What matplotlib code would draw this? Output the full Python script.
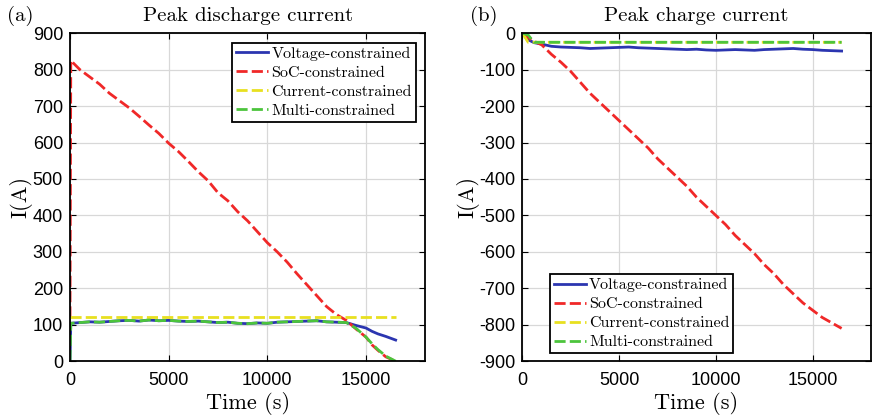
import matplotlib.pyplot as plt

# ---- data ----
# (a) peak discharge current
t_dis = [0, 40, 500, 1000, 1500, 2000, 2500, 3000, 3500, 4000, 4500, 5000, 5500,
         6000, 6500, 7000, 7500, 8000, 8500, 9000, 9500, 10000, 10500, 11000,
         11500, 12000, 12500, 13000, 13500, 14000, 14500, 15000, 15300, 15600,
         16000, 16500]
volt_dis = [0, 104, 106, 108, 107, 109, 111, 112, 110, 113, 111, 112, 110,
            109, 110, 108, 106, 107, 104, 103, 105, 104, 107, 108,
            109, 110, 111, 108, 107, 106, 98, 91, 82, 75, 68, 58]
multi_dis = [0, 104, 106, 108, 107, 109, 111, 112, 110, 113, 111, 112, 110,
             109, 110, 108, 106, 107, 104, 103, 105, 104, 107, 108,
             109, 110, 111, 108, 107, 106, 90, 66, 48, 32, 14, 0]
soc_dis = [120, 825, 800, 780, 760, 735, 715, 695, 672, 648, 625, 598, 575,
           548, 520, 495, 462, 440, 410, 385, 355, 325, 300, 272,
           240, 210, 180, 150, 128, 112, 88, 66, 45, 30, 12, 0]
curr_dis = [120] * len(t_dis)

# (b) peak charge current
t_chg = [0, 300, 600, 1000, 1500, 2000, 2500, 3000, 3500, 4000, 4500, 5000, 5500,
         6000, 6500, 7000, 7500, 8000, 8500, 9000, 9500, 10000, 10500, 11000,
         11500, 12000, 12500, 13000, 13500, 14000, 14500, 15000, 15500, 16000,
         16500]
volt_chg = [0, -18, -26, -30, -36, -38, -39, -40, -42, -41, -40, -39, -38,
            -40, -41, -42, -43, -44, -45, -44, -46, -47, -46, -45,
            -46, -47, -45, -44, -43, -42, -44, -45, -47, -48, -49]
soc_chg = [0, -12, -22, -32, -58, -80, -105, -135, -165, -190, -215, -240, -265,
           -290, -315, -345, -370, -395, -420, -450, -475, -500, -525, -555,
           -580, -605, -635, -660, -690, -715, -740, -760, -780, -795, -810]
curr_chg = [0, -25, -25, -25, -25, -25, -25, -25, -25, -25, -25, -25, -25,
            -25, -25, -25, -25, -25, -25, -25, -25, -25, -25, -25,
            -25, -25, -25, -25, -25, -25, -25, -25, -25, -25, -25]
multi_chg = [0, -5, -25, -25, -25, -25, -25, -25, -25, -25, -25, -25, -25,
             -25, -25, -25, -25, -25, -25, -25, -25, -25, -25, -25,
             -25, -25, -25, -25, -25, -25, -25, -25, -25, -25, -25]

labels = ['Voltage-constrained', 'SoC-constrained', 'Current-constrained', 'Multi-constrained']
colors = ['#2b35b0', '#f02828', '#e8e020', '#4cc43c']

serif = ['cmr10', 'DejaVu Serif']
plt.rcParams['font.family'] = ['Liberation Sans', 'DejaVu Sans']
plt.rcParams['axes.unicode_minus'] = False
plt.rcParams['axes.formatter.use_mathtext'] = False

fig = plt.figure(figsize=(8.75, 4.2), dpi=100)
ax1 = fig.add_axes([0.080, 0.140, 0.406, 0.781])
ax2 = fig.add_axes([0.597, 0.140, 0.398, 0.781])
dash = (4, 1.5)


def style(ax, title, ylim, yticks):
    ax.set_xlim(0, 18000)
    ax.set_ylim(*ylim)
    ax.set_xticks([0, 5000, 10000, 15000])
    ax.set_yticks(yticks)
    ax.grid(True, color='#d8d8d8', linewidth=0.9)
    ax.set_axisbelow(True)
    ax.tick_params(direction='in', top=True, right=True, labelsize=13, length=4, pad=5)
    ax.tick_params(axis='x', pad=8)
    for s in ax.spines.values():
        s.set_linewidth(1.3)
    ax.set_title(title, family=serif, fontsize=15, pad=9)
    ax.set_xlabel('Time (s)', family=serif, fontsize=16, labelpad=2)
    ax.set_ylabel('I(A)', family=serif, fontsize=16, labelpad=0)


def legend(ax, **kw):
    leg = ax.legend(prop={'family': serif, 'size': 11.5},
                    fancybox=False, edgecolor='black', framealpha=1,
                    handlelength=2.0, handletextpad=0.2, borderpad=0.25,
                    labelspacing=0.3, **kw)
    leg.get_frame().set_linewidth(1.3)


ax1.plot(t_dis, volt_dis, color=colors[0], lw=2, label=labels[0])
ax1.plot(t_dis, soc_dis, color=colors[1], lw=2, ls='--', dashes=dash, label=labels[1])
ax1.plot(t_dis, curr_dis, color=colors[2], lw=2, ls='--', dashes=dash, label=labels[2])
ax1.plot(t_dis, multi_dis, color=colors[3], lw=2, ls='--', dashes=dash, label=labels[3])
style(ax1, 'Peak discharge current', (0, 900), range(0, 901, 100))
legend(ax1, loc='upper right', borderaxespad=0.6)

ax2.plot(t_chg, volt_chg, color=colors[0], lw=2, label=labels[0])
ax2.plot(t_chg, soc_chg, color=colors[1], lw=2, ls='--', dashes=dash, label=labels[1])
ax2.plot(t_chg, curr_chg, color=colors[2], lw=2, ls='--', dashes=dash, label=labels[2])
ax2.plot(t_chg, multi_chg, color=colors[3], lw=2, ls='--', dashes=dash, label=labels[3])
style(ax2, 'Peak charge current', (-900, 0), range(-900, 1, 100))
legend(ax2, loc='lower left', bbox_to_anchor=(0.065, 0.01), borderaxespad=0.3)

fig.text(0.008, 0.95, '(a)', family=serif, fontsize=15)
fig.text(0.537, 0.95, '(b)', family=serif, fontsize=15)

fig.savefig('out.png', dpi=100)
